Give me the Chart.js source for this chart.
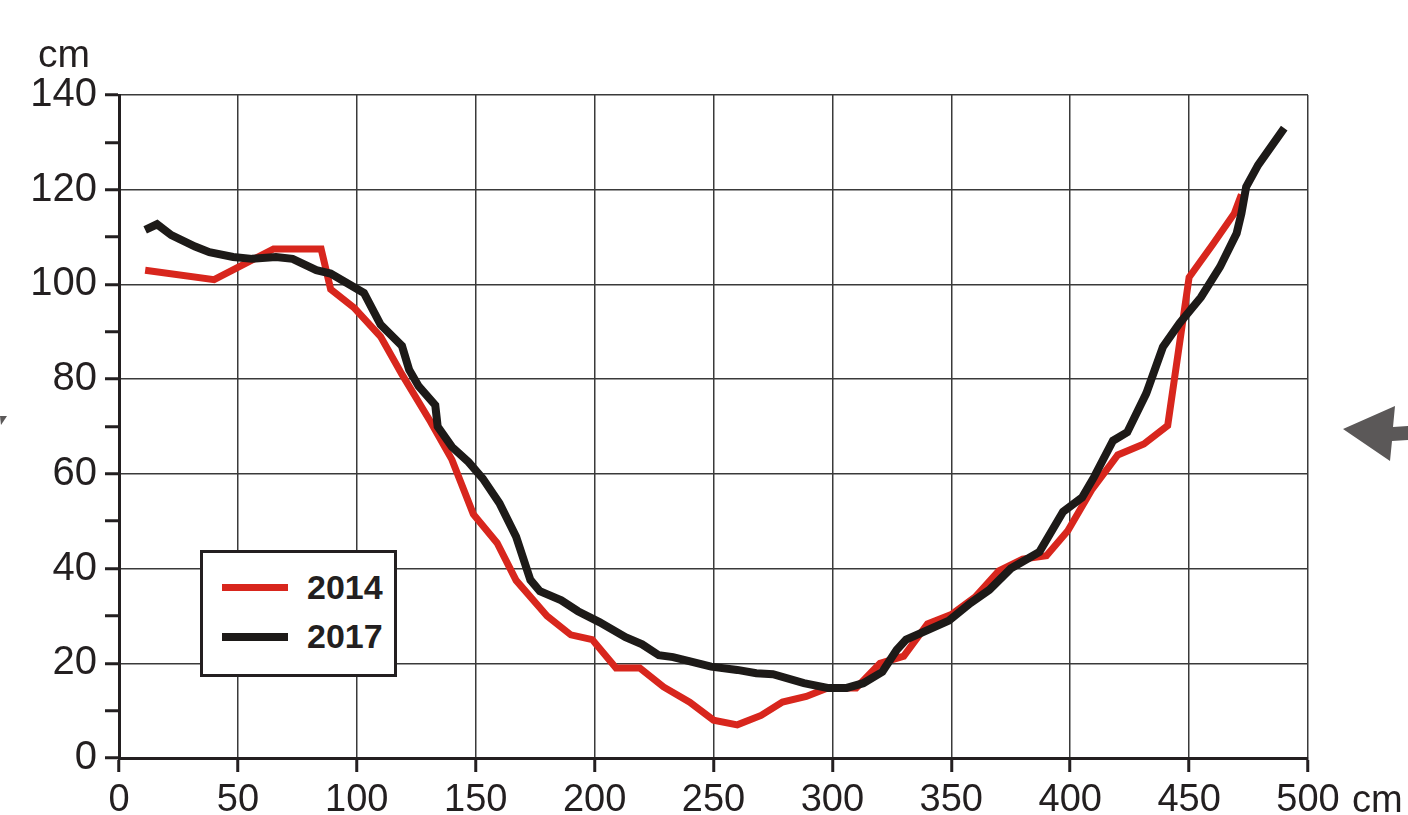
<!DOCTYPE html>
<html>

<head>
  <title>Profile 2014 / 2017</title>
  <script src="https://cdn.jsdelivr.net/npm/chart.js@4.4.1/dist/chart.umd.min.js"></script>
  <style>
    body { margin: 0; background: #fff; }
    #wrap { position: relative; width: 1408px; height: 815px; }
    #legend {
      position: absolute; left: 200px; top: 550px; width: 191px; height: 121px;
      border: 3px solid #231f20; background: #fff;
      font: bold 34px "Liberation Sans", Arial, sans-serif; color: #231f20;
    }
    .row { position: absolute; left: 19px; display: flex; align-items: center; }
    .swatch { width: 66px; height: 7px; margin-right: 19px; }
  </style>
</head>

<body>
  <div id="wrap">
    <canvas id="profileChart" width="1408" height="815"></canvas>
    <div id="legend"></div>
  </div>
  <script>
    // distance across (cm) and height (cm)
    const x2014 = [11, 40, 65, 85, 89, 99, 110, 119, 131, 140, 149, 159, 167, 180, 190, 199, 209, 219, 229, 240,
      250, 260, 270, 279, 289, 298, 310, 320, 330, 340, 350, 360, 370, 380, 390, 399, 409, 420, 431, 441,
      450, 460, 469, 472];
    const y2014 = [103, 101, 107.5, 107.5, 99, 95, 89, 81, 71, 63, 51.5, 45.4, 37.5, 30, 26, 25, 19, 19, 15, 11.8,
      8, 7, 9, 11.8, 13, 14.8, 14.8, 20, 21.5, 28.3, 30.3, 34, 39.5, 42, 42.7, 48, 56.6, 64, 66.3, 70.2,
      101.5, 108.5, 115, 119];

    const x2017 = [11, 16, 22, 32, 38, 48, 56, 66, 73, 83, 89, 103, 110, 119, 122, 126, 133, 134, 140, 147,
      153, 160, 167, 173, 177, 186, 193, 202, 213, 220, 227, 233, 241, 249, 260, 268, 275, 288, 298, 306,
      313, 321, 327, 331, 340, 349, 358, 366, 375, 387, 397, 405, 410, 418, 424, 432, 439, 446, 455, 463,
      470, 472, 474, 479, 490];
    const y2017 = [111.5, 112.7, 110.4, 108, 106.8, 105.8, 105.4, 105.8, 105.4, 103, 102.3, 98.2, 91.5, 87, 82, 78.5, 74.5, 70, 65.7, 62.5,
      59, 53.8, 46.7, 37.6, 35.2, 33.3, 31, 28.7, 25.5, 24, 21.7, 21.3, 20.3, 19.3, 18.6, 17.9, 17.7, 15.8, 14.8, 14.8,
      15.8, 18.2, 22.8, 25, 27, 29, 32.7, 35.5, 40, 43.5, 52, 55, 59.3, 67, 68.8, 77, 86.8, 91.8, 97.3, 103.7,
      110.8, 115, 120.6, 125.2, 133];

    const seriesLabels = ['2014', '2017'];
    const seriesColors = ['#d8261d', '#1d1a18'];

    const xTicks = [0, 50, 100, 150, 200, 250, 300, 350, 400, 450, 500];
    const yLabelStep = 20;

    const font = '"Liberation Sans", Arial, sans-serif';
    const ink = '#231f20';

    function points(xs, ys) {
      return xs.map((x, i) => ({ x: x, y: ys[i] }));
    }

    // extra text and the two grey arrows around the plot
    const extras = {
      id: 'extras',
      afterDraw(chart) {
        const c = chart.ctx;
        const xs = chart.scales.x;
        c.save();
        c.fillStyle = ink;
        c.font = '39px ' + font;
        c.textAlign = 'left';
        c.textBaseline = 'alphabetic';
        c.fillText('cm', 38, 67);
        c.font = '38px ' + font;
        c.fillText('cm', xs.getPixelForValue(500) + 44, 812);

        c.fillStyle = '#5b5858';
        c.beginPath();
        c.moveTo(1343, 429);
        c.lineTo(1395, 406);
        c.lineTo(1393, 427);
        c.lineTo(1408, 426);
        c.lineTo(1408, 440);
        c.lineTo(1392, 441);
        c.lineTo(1390, 461);
        c.closePath();
        c.fill();

        c.beginPath();
        c.moveTo(0, 416);
        c.lineTo(7, 416);
        c.lineTo(1, 425);
        c.closePath();
        c.fill();
        c.restore();
      }
    };

    const ctx = document.getElementById('profileChart').getContext('2d');
    const profileChart = new Chart(ctx, {
      type: 'line',
      data: {
        datasets: [{
          label: seriesLabels[0],
          data: points(x2014, y2014),
          borderColor: seriesColors[0],
          borderWidth: 7,
          order: 2
        }, {
          label: seriesLabels[1],
          data: points(x2017, y2017),
          borderColor: seriesColors[1],
          borderWidth: 8,
          order: 1
        }]
      },
      options: {
        responsive: false,
        animation: false,
        layout: { padding: { top: 95, right: 100, left: 0, bottom: 0 } },
        elements: { point: { radius: 0 }, line: { tension: 0, fill: false } },
        plugins: { legend: { display: false }, tooltip: { enabled: false } },
        scales: {
          x: {
            type: 'linear',
            min: 0,
            max: 500,
            afterFit: s => { s.height = 57; },
            afterBuildTicks: s => { s.ticks = xTicks.map(v => ({ value: v })); },
            border: { color: ink, width: 3 },
            grid: { color: '#3a3a3a', lineWidth: 1.5, tickColor: ink, tickWidth: 3, tickLength: 14 },
            ticks: { color: ink, font: { family: font, size: 38 }, padding: 6, maxRotation: 0, autoSkip: false }
          },
          y: {
            min: 0,
            max: 140,
            afterFit: s => { s.width = 119; },
            border: { color: ink, width: 3 },
            grid: {
              color: c => (c.tick && c.tick.value % yLabelStep === 0) ? '#3a3a3a' : 'rgba(0,0,0,0)',
              lineWidth: 1.5, tickColor: ink, tickWidth: 3, tickLength: 14
            },
            ticks: {
              stepSize: 10,
              autoSkip: false,
              color: ink,
              padding: 8,
              font: { family: font, size: 40 },
              callback: v => (v % yLabelStep === 0 ? v : '')
            }
          }
        }
      },
      plugins: [extras]
    });

    // legend box drawn in html, from the datasets
    const legend = document.getElementById('legend');
    profileChart.data.datasets.forEach((ds, i) => {
      const row = document.createElement('div');
      row.className = 'row';
      row.style.top = (i === 0 ? 15 : 64) + 'px';
      const sw = document.createElement('div');
      sw.className = 'swatch';
      sw.style.background = ds.borderColor;
      sw.style.height = ds.borderWidth + 'px';
      const txt = document.createElement('span');
      txt.textContent = ds.label;
      row.appendChild(sw);
      row.appendChild(txt);
      legend.appendChild(row);
    });
  </script>
</body>

</html>
